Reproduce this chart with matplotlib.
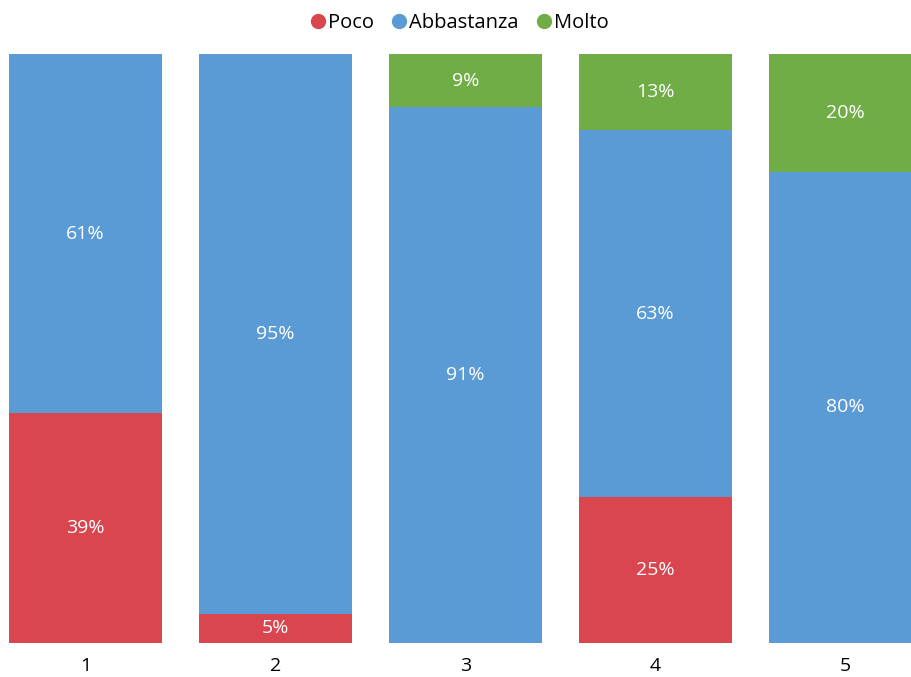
import matplotlib
matplotlib.use("Agg")
from matplotlib import pyplot as plt
import numpy as np

categories = ["1", "2", "3", "4", "5"]
poco = [39, 5, 0, 25, 0]
abbastanza = [61, 95, 91, 63, 80]
molto = [0, 0, 9, 13, 20]

series = [("Poco", poco, "#D9464F"),
          ("Abbastanza", abbastanza, "#5B9BD5"),
          ("Molto", molto, "#70AD47")]

plt.rcParams['font.family'] = ['Open Sans', 'DejaVu Sans']

fig = plt.figure(figsize=(9.11, 6.77), dpi=100)
ax = fig.add_axes([0, 0.0502, 1, 0.870])

x = np.arange(len(categories))
totals = np.array(poco) + np.array(abbastanza) + np.array(molto)
bottom = np.zeros(len(categories))
for name, vals, col in series:
  vals = np.array(vals, dtype=float)
  h = vals / totals
  ax.bar(x, h, width=0.805, bottom=bottom, color=col, label=name)
  for i in range(len(x)):
    if vals[i] > 0:
      ax.text(x[i], bottom[i] + h[i] / 2, "%d%%" % vals[i], ha="center", va="center",
              color="white", fontsize=14)
  bottom += h

ax.set_xlim(-0.45, 4.345)
ax.set_ylim(0, 1)
ax.set_xticks(x)
ax.set_xticklabels(categories, fontsize=14)
ax.tick_params(axis="x", length=0, pad=10)
ax.set_yticks([])
for s in ax.spines.values():
  s.set_visible(False)

handles = [plt.Line2D([], [], marker="o", linestyle="", color=c, markersize=10) for _, _, c in series]
fig.legend(handles, [n for n, _, _ in series], loc="upper center", bbox_to_anchor=(0.5, 1.007),
           ncol=3, frameon=False, fontsize=14.5, handletextpad=-0.25, columnspacing=0.5,
           handlelength=1.5)

fig.savefig("out.png", dpi=100)
